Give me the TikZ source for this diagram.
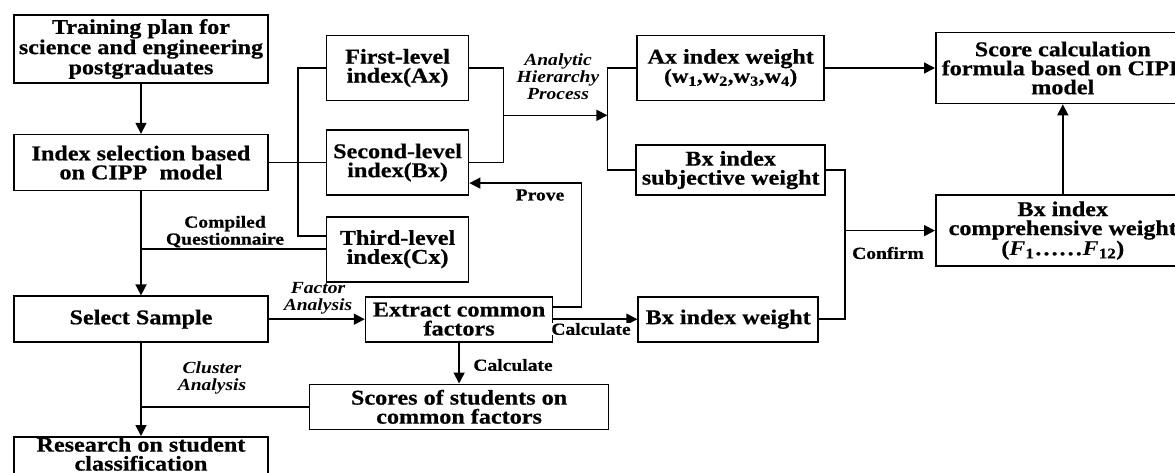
\documentclass[tikz,border=0pt]{standalone}
\usepackage{fontspec}
\usepackage{tikz}
\usetikzlibrary{arrows.meta,calc,positioning}
\newfontfamily\tnr{Liberation Serif}[FakeStretch=1.15,BoldFeatures={FakeBold=0.6}]
\definecolor{ink}{HTML}{000000}

\begin{document}
\begin{tikzpicture}[x=1pt,y=-1pt,>={Triangle[length=11pt,width=11pt]},line width=1.6pt,
  box/.style={draw=ink,align=center,inner sep=0pt,font=\tnr\bfseries\fontsize{21}{19}\selectfont},
  lab/.style={align=center,inner sep=1pt,font=\tnr\bfseries\fontsize{17}{17}\selectfont},
  ital/.style={lab,font=\tnr\bfseries\itshape\fontsize{17}{17}\selectfont}]
\useasboundingbox (0,0) rectangle (1175,472);
\clip (0,0) rectangle (1175,472);
% left column
\node[box,minimum width=254pt,minimum height=68pt] (train) at (141,49) {Training plan for\\science and engineering\\postgraduates};
\node[box,minimum width=254pt,minimum height=56pt,below=50pt of train] (cipp) {Index selection based\\on CIPP\ \ model};
\node[box,minimum width=254pt,minimum height=46pt,below=104pt of cipp] (sample) {Select Sample};
\node[box,minimum width=254pt,minimum height=42pt,text depth=8pt,below=93pt of sample] (research) {Research on student\\classification};
% index levels
\node[box,minimum width=142pt,minimum height=65pt,right=57pt of cipp] (lvB) {Second-level\\index(Bx)};
\node[box,minimum width=142pt,minimum height=65pt,above=28pt of lvB] (lvA) {First-level\\index(Ax)};
\node[box,minimum width=142pt,minimum height=65pt,below=20pt of lvB] (lvC) {Third-level\\index(Cx)};
% factor analysis
\node[box,minimum width=187pt,minimum height=45pt,right=96pt of sample] (extract) {Extract common\\factors};
\node[box,minimum width=299pt,minimum height=45pt,below=41pt of extract] (scores) {Scores of students on\\common factors};
% weights
\node[box,minimum width=187pt,minimum height=65pt,right=167pt of lvA] (axw) {Ax index weight\\{\fontsize{20}{19}\selectfont(w\textsubscript{1},w\textsubscript{2},w\textsubscript{3},w\textsubscript{4})}};
\node[box,minimum width=189pt,minimum height=50pt,below=43pt of axw] (bsub) {Bx index\\subjective weight};
\node[box,minimum width=180pt,minimum height=45pt,right=84pt of extract] (bw) {Bx index weight};
\node[box,minimum width=254pt,minimum height=71pt,right=110pt of axw] (score) {Score calculation\\formula based on CIPP\\model};
\node[box,minimum width=254pt,minimum height=71pt,below=90pt of score] (bcomp) {Bx index\\comprehensive weight\\(\textit{F}\textsubscript{1}……\textit{F}\textsubscript{12})};

% main column
\draw[->] (train) -- (cipp);
\draw[->] (cipp) -- (sample);
\draw[->] (sample) -- (research);
% index selection to the three levels
\draw (cipp.east) -- (cipp.east -| lvB.west);
\draw ([yshift=13.5pt]lvC.west) -| ([xshift=-28pt]lvA.west) -- (lvA.west);
\draw (lvC.west) -- (lvC.west -| cipp.south);
\node[lab,anchor=south] (cq) at ($(lvC.west -| cipp.south)+(84,0)$) {Compiled\\Questionnaire};
% AHP
\draw (lvA.east) -- ++(34,0) |- (lvB.east);
\coordinate (ahp) at ($(lvA.east)!0.5!(lvB.east)+(34,0)$);
\coordinate (fork) at ([xshift=-29pt]axw.west);
\draw[->] (ahp) -- (ahp -| fork);
\draw (axw.west) -- (fork) |- (bsub.west);
\node[ital] (ahpl) at (558,77) {Analytic\\Hierarchy\\Process};
\draw[->] (axw) -- (score);
% factor analysis
\draw[->] (sample.east) -- (extract.west);
\node[ital] (fa) at (318,298) {Factor\\Analysis};
\draw[->] ([yshift=12.5pt]extract.east) -- ++(28,0) |- ([yshift=-20.5pt]lvB.east);
\node[lab] (prove) at (540,195) {Prove};
\draw[->] (extract.east) -- (bw.west);
\node[lab,fill=white,inner sep=0pt] (calc1) at (591,329) {Calculate};
\draw[->] (extract) -- (scores);
\node[lab] (calc2) at (513,365) {Calculate};
% cluster analysis
\draw (scores.west) -- (scores.west -| sample.south);
\node[ital] (ca) at (212,378) {Cluster\\Analysis};
% comprehensive weight
\coordinate (cj) at ([xshift=19pt]bsub.east);
\draw (bsub.east) -- (cj) |- (bw.east);
\draw[->] (bcomp.west -| cj) -- (bcomp.west);
\node[lab,fill=white,inner sep=0pt] (conf) at (888,253) {Confirm};
\draw[->] (bcomp) -- (score);
\end{tikzpicture}
\end{document}
